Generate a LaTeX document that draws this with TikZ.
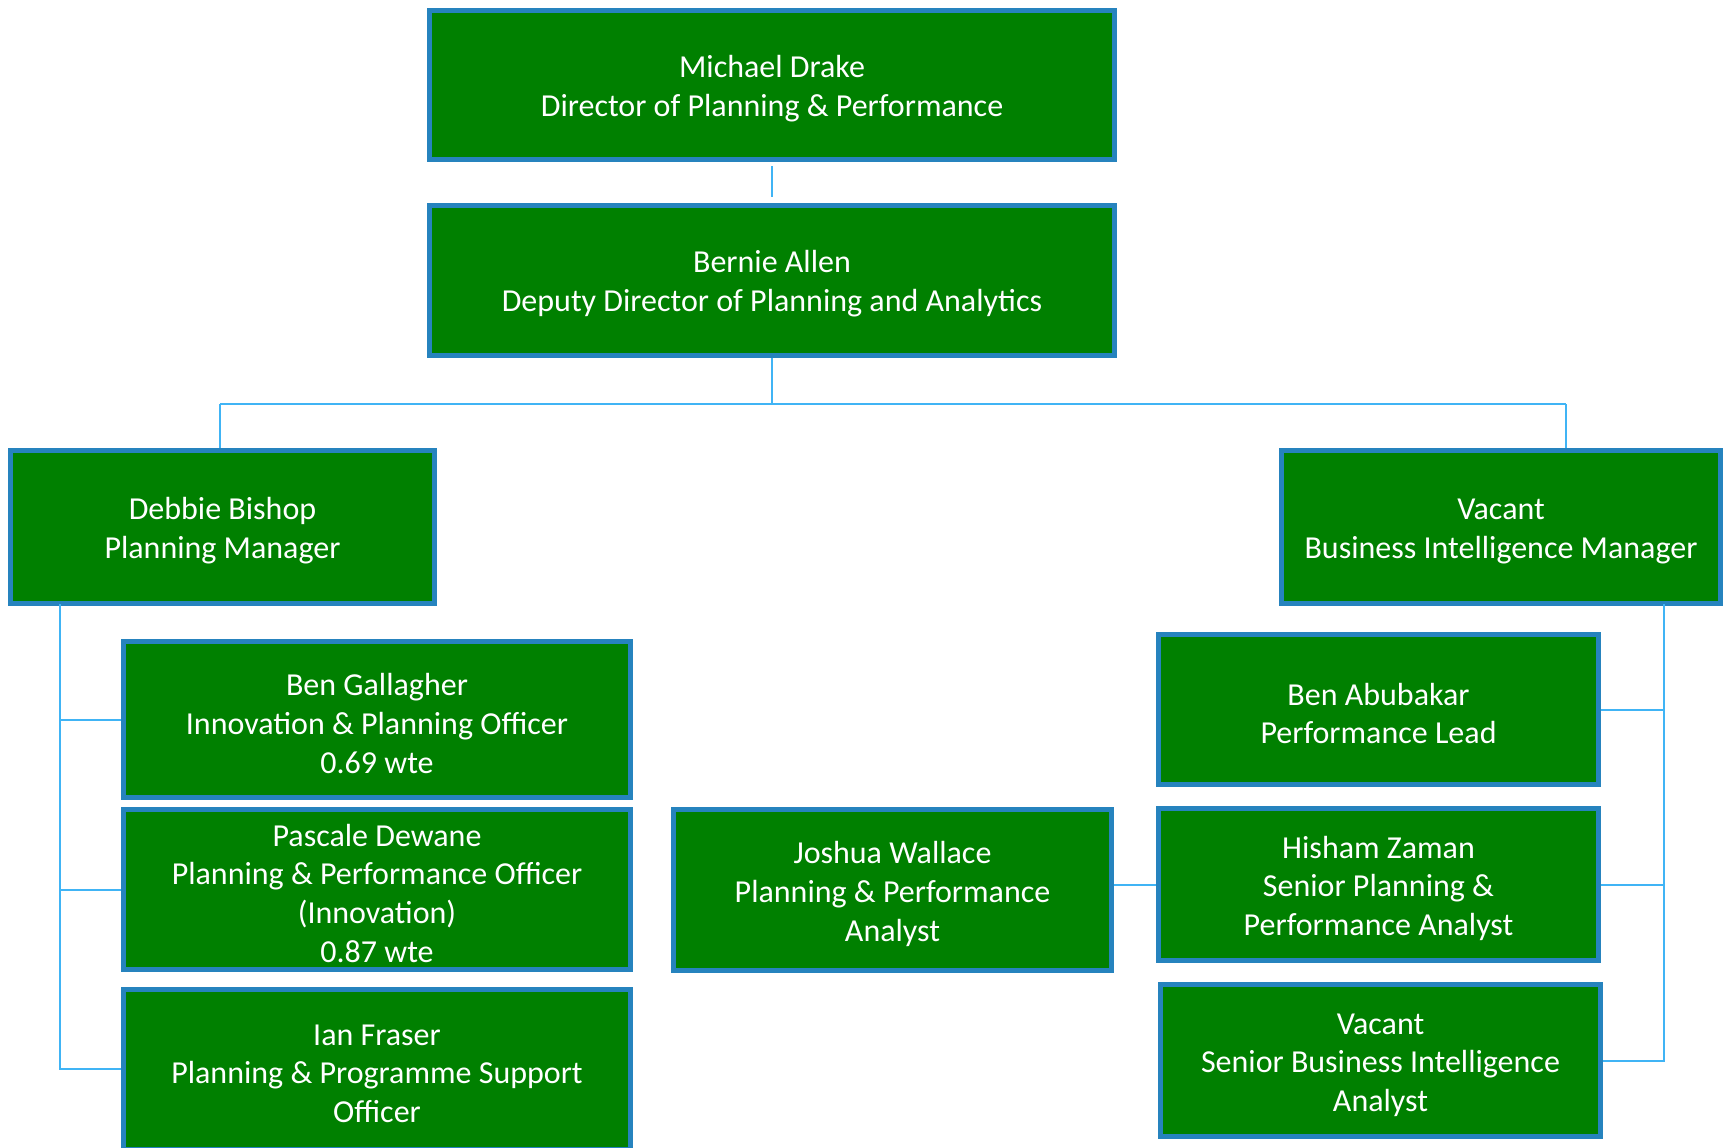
\documentclass[tikz,border=0pt]{standalone}
\usepackage{fontspec}
\setmainfont{Carlito}
\usepackage{tikz}

\definecolor{boxgreen}{RGB}{0,128,0}
\definecolor{boxblue}{RGB}{38,131,190}
\definecolor{linkblue}{RGB}{64,180,245}
\newcommand\topgap{\rule{0pt}{15pt}}

\begin{document}
\begin{tikzpicture}[x=0.5pt,y=-0.5pt,
  post/.style={draw=boxblue,line width=2.5pt,fill=boxgreen,text=white,align=center,inner sep=0pt,
    font=\fontsize{16}{19.4}\selectfont},
  link/.style={draw=linkblue,line width=1pt}]
\useasboundingbox (0,0) rectangle (1727,1147);

\coordinate (busL) at (220,404);
\coordinate (busR) at (1566,404);
\coordinate (ltop) at (60,604);
\coordinate (rtop) at (1664,604);

\node[post,minimum width=342.5pt,minimum height=74.5pt] (md) at (772,85) {\topgap Michael Drake\\Director of Planning \& Performance};
\node[post,minimum width=342.5pt,minimum height=75pt] (ba) at (772,280) {\topgap Bernie Allen\\Deputy Director of Planning and Analytics};
\node[post,minimum width=212pt,minimum height=76.5pt] (db) at (222.5,527) {\topgap Debbie Bishop\\Planning Manager};
\node[post,minimum width=219.5pt,minimum height=76.5pt] (vbi) at (1501,527) {\topgap Vacant\\Business Intelligence Manager};
\node[post,minimum width=253.5pt,minimum height=78pt] (bg) at (377,719.5) {\topgap Ben Gallagher\\Innovation \& Planning Officer\\0.69 wte};
\node[post,minimum width=253.5pt,minimum height=80pt] (pd) at (377,889.5) {\topgap Pascale Dewane\\Planning \& Performance Officer\\(Innovation)\\0.87 wte};
\node[post,minimum width=253.5pt,minimum height=80pt] (if) at (377,1069) {\topgap Ian Fraser\\Planning \& Programme Support\\Officer};
\node[post,minimum width=219pt,minimum height=80.5pt] (jw) at (892.5,890) {\topgap Joshua Wallace\\Planning \& Performance\\Analyst};
\node[post,minimum width=220pt,minimum height=75pt] (bab) at (1378.5,709.5) {\topgap Ben Abubakar\\Performance Lead};
\node[post,minimum width=220pt,minimum height=76pt] (hz) at (1378.5,884.5) {\topgap Hisham Zaman\\Senior Planning \&\\Performance Analyst};
\node[post,minimum width=220pt,minimum height=76pt] (vsbi) at (1380.5,1060.5) {\topgap Vacant\\Senior Business Intelligence\\Analyst};

\draw[link,shorten <=2pt,shorten >=3pt] (md.south) -- (ba.north);
\draw[link] (ba.south) -- (ba.south |- busL);
\draw[link] (busL) -- (busR);
\draw[link] (busL) -- (busL |- db.north);
\draw[link] (busR) -- (busR |- vbi.north);
\draw[link] (ltop) |- (if.west);
\foreach \n in {bg,pd}
\draw[link] (ltop |- \n.west) -- (\n.west);
\draw[link] (rtop) |- (vsbi.east);
\foreach \n in {bab,hz}
\draw[link] (rtop |- \n.east) -- (\n.east);
\draw[link] (jw.east |- hz.west) -- (hz.west);
\end{tikzpicture}
\end{document}
